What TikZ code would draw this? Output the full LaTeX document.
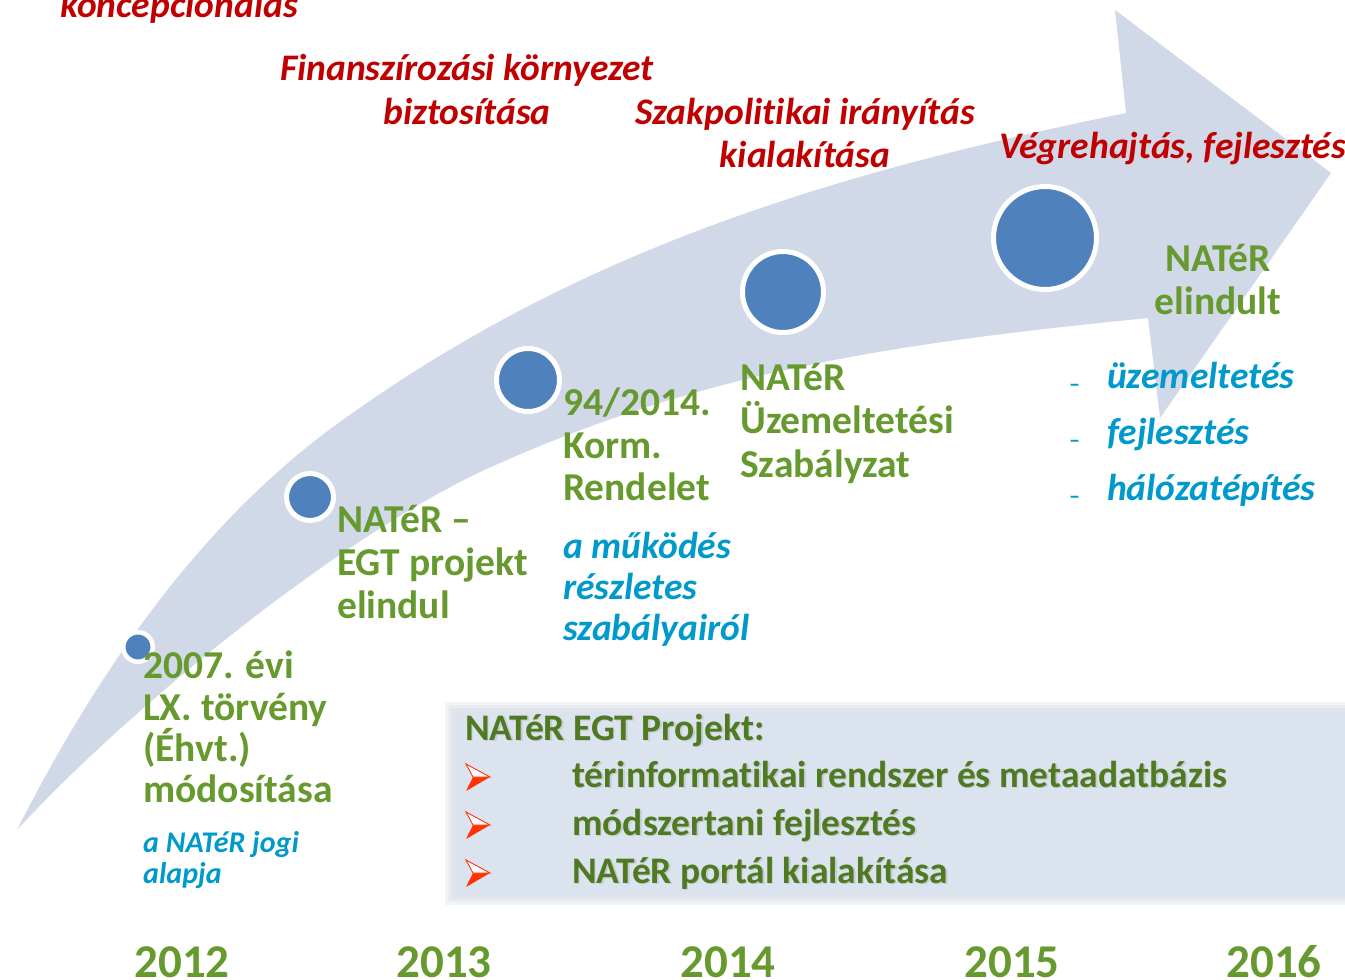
\documentclass[tikz,border=0pt]{standalone}
\usepackage{fontspec}
\setmainfont{Carlito}[Ligatures=NoCommon]
\definecolor{arrowfill}{HTML}{D1D9E8}
\definecolor{dotblue}{HTML}{4F81BD}
\definecolor{phasered}{HTML}{C00000}
\definecolor{stepgreen}{HTML}{66992E}
\definecolor{notegreen}{HTML}{4F7A21}
\definecolor{noteblue}{HTML}{0099CC}
\definecolor{panelfill}{HTML}{DBE3EF}
\definecolor{paneledge}{HTML}{CDD4DF}
\definecolor{bulletred}{HTML}{FF3300}
\begin{document}
\begin{tikzpicture}[x=1pt,y=-1pt,
  phase/.style={inner sep=0, text=phasered, font=\fontsize{37.5}{40}\selectfont\bfseries\itshape},
  stepline/.style={anchor=base west, inner sep=0, text=stepgreen, font=\fontsize{39.5}{42}\selectfont\bfseries},
  noteline/.style={anchor=base west, inner sep=0, text=noteblue, font=\fontsize{37.5}{40}\selectfont\bfseries\itshape},
  smallnote/.style={anchor=base west, inner sep=0, text=noteblue, font=\fontsize{30}{32}\selectfont\bfseries\itshape},
  yearlabel/.style={anchor=base, inner sep=0, text=stepgreen, font=\fontsize{47}{50}\selectfont\bfseries},
  panelline/.style={anchor=base west, inner sep=0, text=notegreen, font=\fontsize{37.5}{40}\selectfont\bfseries},
  panelshadow/.style={anchor=base west, inner sep=0, text=black!40, opacity=0.3, font=\fontsize{37.5}{40}\selectfont\bfseries},
  milestone/.style={circle, fill=dotblue, draw=white, inner sep=0}
]
\useasboundingbox (0,0) rectangle (1345,980);

% curved timeline arrow
\fill[arrowfill] (17,830) .. controls (107,652) and (212,516) .. (333,427)
  .. controls (575,250) and (832,173) .. (1126,113)
  -- (1115,10) -- (1331,173) -- (1160,418) -- (1148,318)
  .. controls (898,343) and (710,370) .. (500,463)
  .. controls (345,530) and (125,712) .. (17,830) -- cycle;

% milestones
\node[milestone, minimum size=29.5, line width=4.5] (m1) at (138,647) {};
\node[milestone, minimum size=47, line width=5] (m2) at (310,497) {};
\node[milestone, minimum size=63, line width=5] (m3) at (528,380) {};
\node[milestone, minimum size=81, line width=5] (m4) at (783,292) {};
\node[milestone, minimum size=103, line width=5] (m5) at (1045,238) {};

% phase titles
\node[phase, anchor=base west] (p1) at (60,17) {koncepcionálás};
\node[phase, anchor=base] (p2a) at (467,80) {Finanszírozási környezet};
\node[phase, anchor=base] (p2b) at (467,124) {biztosítása};
\node[phase, anchor=base] (p3a) at (805,124) {Szakpolitikai irányítás};
\node[phase, anchor=base] (p3b) at (805,167) {kialakítása};
\node[phase, anchor=base west] (p4) at (999,158) {Végrehajtás, fejlesztés};

% milestone texts
\node[stepline] (s1a) at (143,678) {2007. évi};
\node[stepline] (s1b) at (143,720) {LX. törvény};
\node[stepline] (s1c) at (143,761) {(Éhvt.)};
\node[stepline] (s1d) at (143,802) {módosítása};
\node[smallnote] (n1a) at (143,852) {a NATéR jogi};
\node[smallnote] (n1b) at (143,883) {alapja};

\node[stepline] (s2a) at (337,532) {NATéR –};
\node[stepline] (s2b) at (337,575) {EGT projekt};
\node[stepline] (s2c) at (337,618) {elindul};

\node[stepline] (s3a) at (563,415) {94/2014.};
\node[stepline] (s3b) at (563,458) {Korm.};
\node[stepline] (s3c) at (563,500) {Rendelet};
\node[noteline] (n3a) at (563,558) {a működés};
\node[noteline] (n3b) at (563,599) {részletes};
\node[noteline] (n3c) at (563,640) {szabályairól};

\node[stepline] (s4a) at (740,390) {NATéR};
\node[stepline] (s4b) at (740,433) {Üzemeltetési};
\node[stepline] (s4c) at (740,477) {Szabályzat};

\node[stepline, anchor=base] (s5a) at (1218,271) {NATéR};
\node[stepline, anchor=base] (s5b) at (1218,314) {elindult};

\foreach \t/\yy [count=\i] in {üzemeltetés/388, fejlesztés/444, hálózatépítés/500} {
  \node[inner sep=0, anchor=base west, text=noteblue, font=\fontsize{22}{24}\selectfont\bfseries] (d\i) at (1069,\yy+3) {–};
  \node[noteline] (n5\i) at (1107,\yy) {\t};
}

% project panel with soft edge
\foreach \d in {10,7,4} {
  \fill[paneledge, opacity=0.25] (455-\d,712-\d) rectangle (1360,895+\d);
}
\fill[panelfill] (455,712) rectangle (1360,895);

\node[panelshadow] at (466.5,741.5) {NATéR EGT Projekt:};
\node[panelline] (pt) at (465,740) {NATéR EGT Projekt:};
\foreach \t/\yy [count=\i] in {térinformatikai rendszer és metaadatbázis/787, módszertani fejlesztés/835, NATéR portál kialakítása/883} {
  \begin{scope}[shift={(466,\yy-23)}]
    \fill[bulletred] (7,13) -- (24,13) -- (0,27) -- cycle;
    \filldraw[fill=white, draw=bulletred, line width=0.9] (0,0) -- (24,13) -- (7,13) -- cycle;
  \end{scope}
  \node[panelshadow] at (573.5,\yy+1.5) {\t};
  \node[panelline] (pi\i) at (572,\yy) {\t};
}

% years
\node[yearlabel] (y12) at (182,977) {2012};
\node[yearlabel] (y13) at (444,977) {2013};
\node[yearlabel] (y14) at (728,977) {2014};
\node[yearlabel] (y15) at (1012,977) {2015};
\node[yearlabel] (y16) at (1274,977) {2016};
\end{tikzpicture}
\end{document}
